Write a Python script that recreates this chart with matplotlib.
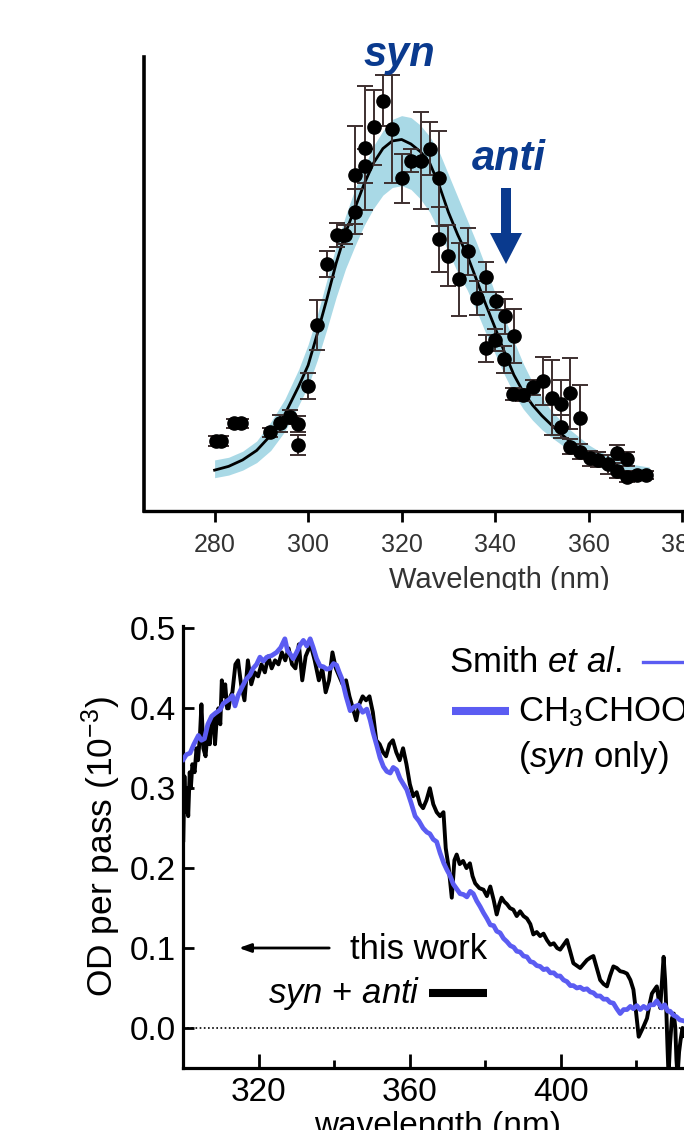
import matplotlib
matplotlib.use("Agg")
import matplotlib.pyplot as plt
from matplotlib.patches import Polygon
from matplotlib.lines import Line2D
from matplotlib.transforms import Bbox, TransformedBbox

plt.rcParams['font.family'] = ['Liberation Sans', 'DejaVu Sans']
plt.rcParams['mathtext.fontset'] = 'custom'
plt.rcParams['mathtext.rm'] = 'Liberation Sans'
plt.rcParams['mathtext.it'] = 'Liberation Sans:italic'
plt.rcParams['mathtext.bf'] = 'Liberation Sans:bold'

# ---------------- upper panel: measured cross sections with fit ----------------
top_wl = [280.3, 281.4, 284.2, 285.6, 291.9, 294.0, 296.1, 297.9, 297.9, 299.9,
          301.9, 304.0, 306.1, 307.9, 310.1, 310.1, 312.1, 312.1, 314.0, 316.0,
          317.9, 320.0, 322.0, 324.1, 326.1, 328.1, 328.1, 330.0, 332.2, 334.2,
          336.1, 338.1, 338.1, 340.1, 340.0, 342.1, 341.9, 344.1, 343.9, 345.9,
          348.2, 350.2, 352.1, 354.1, 354.1, 356.0, 358.2, 356.0, 358.2, 360.2,
          362.1, 364.2, 366.0, 368.2, 366.0, 368.2, 370.3, 372.3]
top_val = [0.185, 0.185, 0.232, 0.232, 0.208, 0.232, 0.249, 0.230, 0.174, 0.330,
           0.492, 0.653, 0.730, 0.730, 0.791, 0.888, 0.912, 0.959, 1.014, 1.085,
           1.010, 0.879, 0.926, 0.926, 0.957, 0.879, 0.718, 0.675, 0.612, 0.687,
           0.562, 0.619, 0.430, 0.555, 0.452, 0.515, 0.401, 0.463, 0.309, 0.307,
           0.327, 0.344, 0.300, 0.283, 0.223, 0.311, 0.245, 0.170, 0.157, 0.139,
           0.135, 0.123, 0.154, 0.137, 0.106, 0.091, 0.095, 0.095]
top_err = [0.012, 0.012, 0.012, 0.012, 0.012, 0.022, 0.018, 0.020, 0.026, 0.034,
           0.066, 0.035, 0.031, 0.025, 0.060, 0.130, 0.045, 0.164, 0.100, 0.068,
           0.142, 0.065, 0.030, 0.128, 0.070, 0.126, 0.085, 0.080, 0.096, 0.062,
           0.045, 0.040, 0.035, 0.025, 0.030, 0.046, 0.036, 0.071, 0.015, 0.015,
           0.020, 0.064, 0.100, 0.062, 0.030, 0.093, 0.089, 0.020, 0.020, 0.020,
           0.020, 0.025, 0.020, 0.018, 0.020, 0.015, 0.012, 0.010]

fit_wl = [280, 283, 286, 289, 292, 295, 298, 300, 302, 304, 306, 308, 310, 312,
          314, 316, 318, 320, 322, 324, 326, 328, 330, 332, 334, 336, 338, 340,
          342, 344, 346, 348, 350, 352, 354, 356, 358, 360, 362, 364, 366, 368,
          370, 372, 373]
fit_val = [0.108, 0.118, 0.135, 0.160, 0.200, 0.255, 0.330, 0.385, 0.470, 0.560,
           0.655, 0.735, 0.800, 0.865, 0.920, 0.958, 0.978, 0.982, 0.970, 0.950,
           0.920, 0.862, 0.790, 0.730, 0.677, 0.612, 0.546, 0.484, 0.420, 0.360,
           0.315, 0.280, 0.252, 0.228, 0.205, 0.184, 0.164, 0.146, 0.133, 0.121,
           0.110, 0.102, 0.096, 0.092, 0.090]
band_hi = [0.135, 0.142, 0.158, 0.185, 0.235, 0.295, 0.375, 0.440, 0.520, 0.610,
           0.700, 0.780, 0.850, 0.910, 0.965, 1.005, 1.035, 1.045, 1.040, 1.020,
           0.990, 0.950, 0.890, 0.830, 0.770, 0.710, 0.645, 0.575, 0.510, 0.450,
           0.390, 0.340, 0.300, 0.265, 0.240, 0.215, 0.195, 0.175, 0.160, 0.148,
           0.137, 0.128, 0.122, 0.118, 0.116]
band_lo = [0.088, 0.095, 0.108, 0.128, 0.160, 0.210, 0.280, 0.330, 0.400, 0.480,
           0.565, 0.640, 0.700, 0.755, 0.800, 0.835, 0.855, 0.860, 0.850, 0.825,
           0.790, 0.740, 0.685, 0.630, 0.585, 0.530, 0.470, 0.415, 0.360, 0.310,
           0.270, 0.240, 0.215, 0.195, 0.177, 0.160, 0.145, 0.130, 0.118, 0.107,
           0.098, 0.090, 0.085, 0.082, 0.081]

top_ticks = [280, 300, 320, 340, 360, 380]

# ---------------- lower panel: absorbance spectra ----------------
work_wl = [300.0, 300.3, 300.6, 301.0, 301.3, 301.7, 302.0, 302.4, 303.0, 303.5,
           303.9, 304.4, 304.8, 305.3, 305.9, 306.5, 307.0, 307.5, 308.0, 308.4,
           308.9, 309.3, 309.8, 310.2, 310.6, 311.1, 311.6, 312.0, 312.5, 313.0,
           313.8, 314.5, 315.3, 316.2, 317.1, 318.0, 318.9, 319.8, 320.7, 321.6,
           322.5, 323.4, 324.3, 325.2, 326.1, 327.0, 327.9, 328.8, 329.7, 330.6,
           331.5, 332.4, 333.7, 334.8, 335.9, 336.8, 337.7, 338.6, 339.5, 340.4,
           341.3, 342.2, 343.1, 344.0, 344.9, 345.8, 346.6, 347.5, 348.4, 349.3,
           350.2, 351.1, 352.0, 352.9, 353.7, 354.6, 355.5, 356.4, 357.3, 358.2,
           359.1, 360.0, 360.9, 361.8, 362.7, 363.5, 364.4, 365.3, 366.2, 367.1,
           368.0, 368.9, 369.5, 370.3, 371.1, 371.8, 372.4, 373.2, 374.1, 375.0,
           375.9, 376.6, 377.3, 378.4, 379.5, 380.4, 381.3, 382.2, 383.0, 383.7,
           384.3, 385.0, 385.7, 386.5, 387.4, 388.3, 389.2, 390.1, 391.0, 391.9,
           392.7, 393.6, 394.5, 395.4, 396.3, 397.2, 398.1, 399.0, 399.8, 400.7,
           401.6, 402.5, 403.3, 404.2, 405.1, 406.0, 406.9, 407.8, 408.6, 409.5,
           410.4, 411.3, 412.2, 413.0, 413.9, 414.8, 415.7, 416.6, 417.5, 418.4,
           419.2, 419.9, 420.6, 421.2, 421.9, 422.8, 423.5, 424.1, 424.8, 425.4,
           425.9, 426.3, 426.8, 427.2, 427.6, 427.9, 428.2, 428.5, 428.9, 429.4,
           429.9, 430.3, 430.6, 430.9, 431.3, 431.7, 432.2, 432.6]
work_od = [0.235, 0.315, 0.270, 0.300, 0.265, 0.320, 0.300, 0.330, 0.320, 0.350,
           0.335, 0.365, 0.405, 0.350, 0.340, 0.375, 0.355, 0.385, 0.390, 0.355,
           0.390, 0.400, 0.380, 0.435, 0.415, 0.430, 0.400, 0.400, 0.415, 0.420,
           0.455, 0.460, 0.430, 0.410, 0.460, 0.430, 0.445, 0.440, 0.455, 0.445,
           0.465, 0.450, 0.460, 0.455, 0.470, 0.460, 0.475, 0.455, 0.450, 0.480,
           0.435, 0.465, 0.480, 0.460, 0.435, 0.450, 0.420, 0.435, 0.470, 0.450,
           0.440, 0.430, 0.435, 0.415, 0.400, 0.385, 0.405, 0.415, 0.410, 0.415,
           0.395, 0.360, 0.355, 0.345, 0.340, 0.355, 0.360, 0.345, 0.335, 0.350,
           0.330, 0.305, 0.290, 0.295, 0.280, 0.275, 0.285, 0.300, 0.280, 0.270,
           0.265, 0.270, 0.225, 0.200, 0.163, 0.210, 0.217, 0.205, 0.209, 0.200,
           0.206, 0.190, 0.181, 0.175, 0.173, 0.165, 0.177, 0.160, 0.142, 0.155,
           0.163, 0.158, 0.155, 0.150, 0.148, 0.140, 0.146, 0.140, 0.137, 0.130,
           0.117, 0.120, 0.115, 0.118, 0.110, 0.104, 0.106, 0.100, 0.098, 0.104,
           0.110, 0.095, 0.081, 0.078, 0.075, 0.080, 0.085, 0.088, 0.090, 0.075,
           0.060, 0.055, 0.052, 0.065, 0.077, 0.075, 0.071, 0.070, 0.068, 0.060,
           0.048, 0.020, -0.011, -0.005, 0.002, 0.012, 0.030, 0.043, 0.048, 0.052,
           0.035, 0.025, 0.060, 0.089, 0.060, 0.025, -0.020, -0.060, -0.020, 0.012,
           0.018, 0.000, -0.040, -0.060, -0.030, -0.015, 0.000, -0.010]

smith_wl = [300.0, 300.8, 301.8, 302.8, 304.0, 304.8, 305.6, 306.5, 307.5, 308.5,
            309.7, 310.6, 311.5, 312.4, 313.0, 313.7, 314.5, 315.5, 316.6, 317.7,
            318.5, 319.4, 320.3, 321.2, 322.1, 323.4, 324.7, 325.8, 326.9, 327.6,
            328.3, 329.1, 330.0, 330.9, 331.8, 332.7, 333.6, 334.4, 335.3, 336.2,
            337.1, 338.0, 338.9, 339.8, 340.6, 341.3, 342.0, 343.1, 344.2, 345.3,
            346.4, 347.5, 348.6, 349.5, 350.3, 351.2, 352.1, 353.0, 353.9, 354.8,
            355.6, 356.5, 357.4, 358.3, 359.2, 360.3, 361.4, 362.4, 363.5, 364.5,
            365.3, 366.2, 367.1, 368.0, 369.0, 369.8, 370.6, 371.5, 372.4, 373.3,
            374.2, 375.1, 376.0, 376.8, 377.7, 378.6, 379.5, 380.4, 381.3, 382.2,
            383.0, 383.9, 384.8, 385.7, 386.6, 387.5, 388.3, 389.2, 390.1, 391.0,
            391.9, 392.7, 393.6, 394.5, 395.4, 396.3, 397.2, 398.1, 399.0, 399.8,
            400.7, 401.6, 402.5, 403.3, 404.2, 405.1, 406.0, 406.9, 407.8, 408.6,
            409.5, 410.4, 411.3, 412.2, 413.0, 413.9, 414.8, 415.7, 416.6, 417.5,
            418.4, 419.2, 420.1, 421.0, 421.9, 422.8, 423.7, 424.6, 425.4, 425.8,
            426.7, 427.5, 428.3, 428.9, 429.8, 430.6, 431.5, 432.4]
smith_od = [0.336, 0.342, 0.344, 0.355, 0.366, 0.360, 0.362, 0.380, 0.390, 0.394,
            0.398, 0.406, 0.409, 0.412, 0.416, 0.403, 0.416, 0.426, 0.436, 0.442,
            0.450, 0.455, 0.464, 0.459, 0.464, 0.466, 0.470, 0.476, 0.487, 0.472,
            0.468, 0.462, 0.470, 0.479, 0.485, 0.478, 0.487, 0.476, 0.462, 0.453,
            0.452, 0.449, 0.450, 0.456, 0.454, 0.445, 0.437, 0.415, 0.397, 0.402,
            0.404, 0.395, 0.399, 0.385, 0.369, 0.354, 0.338, 0.327, 0.321, 0.319,
            0.326, 0.323, 0.312, 0.305, 0.298, 0.282, 0.265, 0.259, 0.250, 0.245,
            0.243, 0.236, 0.233, 0.219, 0.206, 0.198, 0.191, 0.180, 0.174, 0.168,
            0.167, 0.164, 0.171, 0.168, 0.159, 0.152, 0.144, 0.137, 0.129, 0.128,
            0.121, 0.119, 0.112, 0.108, 0.103, 0.101, 0.096, 0.095, 0.090, 0.089,
            0.083, 0.082, 0.078, 0.077, 0.073, 0.074, 0.069, 0.069, 0.065, 0.065,
            0.060, 0.058, 0.053, 0.053, 0.050, 0.051, 0.048, 0.049, 0.045, 0.044,
            0.040, 0.040, 0.036, 0.036, 0.032, 0.031, 0.024, 0.018, 0.023, 0.023,
            0.027, 0.024, 0.028, 0.023, 0.027, 0.024, 0.029, 0.029, 0.034, 0.031,
            0.025, 0.029, 0.021, 0.021, 0.016, 0.014, 0.010, 0.009]

od_ticks = [0.0, 0.1, 0.2, 0.3, 0.4, 0.5]
od_ticklabels = ['0.0', '0.1', '0.2', '0.3', '0.4', '0.5']
wl_major = [320, 360, 400]
wl_minor = [340, 380, 420]

NAVY = '#0a3a8e'
BAND = '#a9d9e6'
SLATE = '#5b5cf2'

W, H = 684, 1130
fig = plt.figure(figsize=(W / 100, H / 100), dpi=100)


def frame(left, top, right, bottom):
    """Axes rectangle from pixel edges measured from the top-left corner."""
    return [left / W, 1 - bottom / H, (right - left) / W, (bottom - top) / H]


def inch(x, y):
    """Pixel position (top-left origin) to inches for dpi_scale_trans."""
    return (x / 100, (H - y) / 100)


ax1 = fig.add_axes(frame(144, 57, 684, 511))
ax2 = fig.add_axes(frame(183.3, 626, 684, 1068.3))

# upper panel
ax1.fill_between(fit_wl, band_lo, band_hi, color=BAND, lw=0, zorder=1)
ax1.plot(fit_wl, fit_val, color='black', lw=2.0, zorder=2)
ax1.errorbar(top_wl, top_val, yerr=top_err, fmt='o', ms=9.5, mfc='black', mec='black',
             ecolor='#3d2f2f', elinewidth=1.4, capsize=6, capthick=1.4, zorder=3)
ax1.set_xlim(264.9, 380.4)
ax1.set_ylim(0, 1.2)
for s in ('top', 'right'):
    ax1.spines[s].set_visible(False)
ax1.spines['left'].set_linewidth(2.6)
ax1.spines['bottom'].set_linewidth(2.4)
ax1.set_xticks(top_ticks)
ax1.set_yticks([])
ax1.tick_params(axis='x', direction='out', length=8, width=2, labelsize=18,
                labelcolor='#333333', pad=8)

xl1 = fig.text(499 / W, 1 - 566 / H, 'Wavelength (nm)', fontsize=21, color='#333333',
               ha='center', va='top')
xl1.set_clip_box(TransformedBbox(Bbox.from_extents(0, 1 - 590 / H, 1, 1), fig.transFigure))
xl1.set_clip_on(True)

fig.text(399 / W, 1 - 66 / H, 'syn', fontsize=30, fontweight='bold', fontstyle='italic',
         color=NAVY, ha='center', va='baseline')
fig.text(509 / W, 1 - 170 / H, 'anti', fontsize=30, fontweight='bold', fontstyle='italic',
         color=NAVY, ha='center', va='baseline')
arrow_pts = [inch(501, 188), inch(511, 188), inch(511, 233), inch(522, 233),
             inch(506, 264), inch(490, 233), inch(501, 233)]
fig.add_artist(Polygon(arrow_pts, closed=True, color=NAVY, lw=0,
                       transform=fig.dpi_scale_trans))

# lower panel
ax2.axhline(0, color='black', lw=1.2, ls=(0, (1, 1.5)), zorder=1)
ax2.plot(work_wl, work_od, color='black', lw=2.8, zorder=2)
ax2.plot(smith_wl, smith_od, color=SLATE, lw=3.4, zorder=3)
ax2.set_xlim(300, 432.6)
ax2.set_ylim(-0.0505, 0.503)
for s in ('top', 'right'):
    ax2.spines[s].set_visible(False)
ax2.spines['left'].set_linewidth(2.3)
ax2.spines['bottom'].set_linewidth(2.3)
ax2.set_xticks(wl_major)
ax2.set_xticks(wl_minor, minor=True)
ax2.set_yticks(od_ticks)
ax2.set_yticklabels(od_ticklabels)
ax2.tick_params(axis='x', which='major', direction='in', length=10, width=2,
                labelsize=24, pad=6)
ax2.tick_params(axis='x', which='minor', direction='in', length=6, width=2)
ax2.tick_params(axis='y', direction='in', length=8, width=2, labelsize=24, pad=5)
ax2.set_ylabel(r'OD per pass (10$^{-3}$)', fontsize=25.5, labelpad=5)
fig.text(438 / W, 1 - 1111 / H, 'wavelength (nm)', fontsize=24, ha='center', va='top')

# key for the lower panel
fig.text(449 / W, 1 - 672 / H, r'Smith $\mathit{et\ al.}$', fontsize=25,
         ha='left', va='baseline')
fig.add_artist(Line2D([inch(643, 662)[0], inch(684, 662)[0]],
                      [inch(643, 662)[1], inch(684, 662)[1]], color=SLATE, lw=2.4,
                      transform=fig.dpi_scale_trans))
fig.add_artist(Line2D([inch(452, 711)[0], inch(509, 711)[0]],
                      [inch(452, 711)[1], inch(509, 711)[1]], color=SLATE, lw=5.8,
                      solid_capstyle='butt', transform=fig.dpi_scale_trans))
fig.text(518 / W, 1 - 721 / H, r'CH$_3$CHOO', fontsize=25, ha='left', va='baseline')
fig.text(518 / W, 1 - 767 / H, r'($\mathit{syn}$ only)', fontsize=25, ha='left',
         va='baseline')

fig.text(487 / W, 1 - 959 / H, 'this work', fontsize=25, ha='right', va='baseline')
ax2.annotate('', xy=inch(236, 948), xycoords=fig.dpi_scale_trans,
             xytext=inch(332, 948), textcoords=fig.dpi_scale_trans,
             arrowprops=dict(arrowstyle='-|>,head_length=0.7,head_width=0.25',
                             color='black', lw=2))
fig.text(420 / W, 1 - 1003 / H, r'$\mathit{syn}$ + $\mathit{anti}$', fontsize=25,
         ha='right', va='baseline')
fig.add_artist(Line2D([inch(429, 993)[0], inch(487, 993)[0]],
                      [inch(429, 993)[1], inch(487, 993)[1]], color='black', lw=5.8,
                      solid_capstyle='butt', transform=fig.dpi_scale_trans))

fig.savefig('out.png', dpi=100)
